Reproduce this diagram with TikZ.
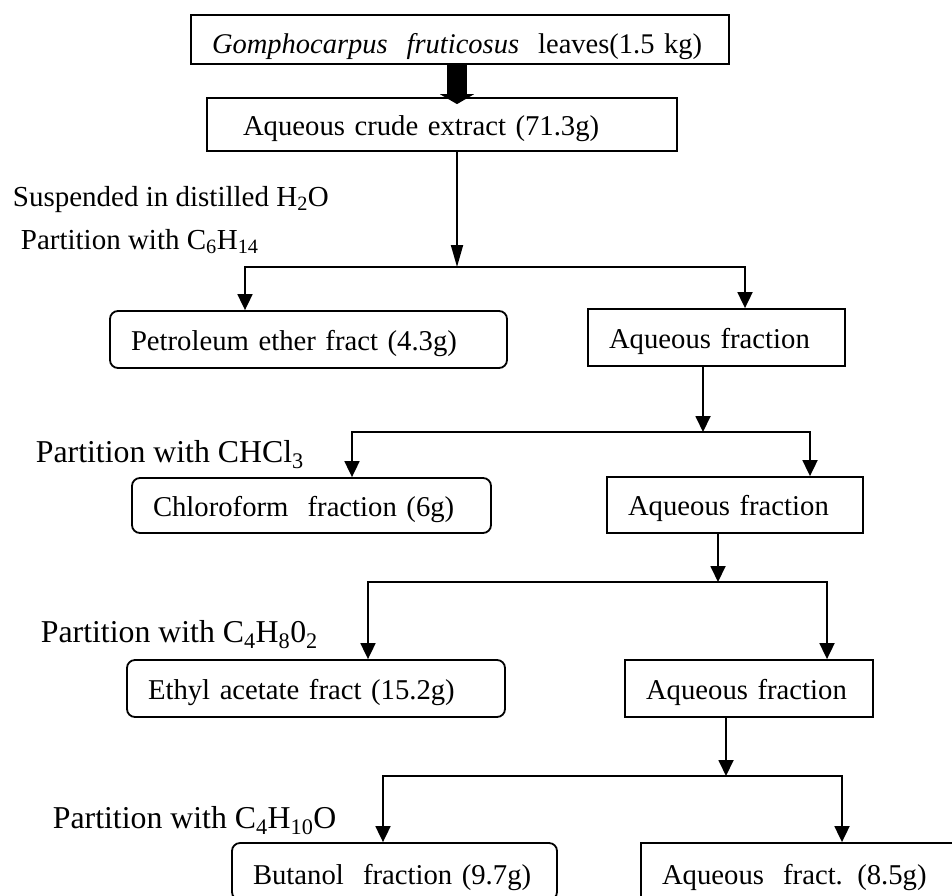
\documentclass[tikz,border=0pt]{standalone}
\usepackage{fontspec}
\setmainfont{Liberation Serif}
\usetikzlibrary{arrows.meta}

\begin{document}
\begin{tikzpicture}[x=1pt,y=-1pt,line width=1.8pt,
        arr/.style={-{Triangle[length=16pt,width=15pt]}},
        longarr/.style={-{Triangle[length=22pt,width=12pt]}},
        fatarr/.style={line width=20pt,-{Triangle[length=10pt,width=34pt]}},
        box/.style={draw,rectangle,align=left,inner xsep=21pt,minimum height=57pt,
            text height=25pt,text depth=4pt,font=\fontsize{28.7}{34}\selectfont},
        rbox/.style={box,rounded corners=8pt},
        partlabel/.style={anchor=base west,inner sep=0pt,font=\fontsize{31.8}{38}\selectfont}]

    \useasboundingbox (0,0) rectangle (952,895);

    \node[box, text width=496pt, minimum height=49pt, text height=31pt, font=\fontsize{28.5}{34}\selectfont] (leaves) at (460,39.5) {\textit{Gomphocarpus}\ \ \textit{fruticosus}\ \ leaves(1.5 kg)};
    \node[box, inner xsep=36pt, text width=398pt, minimum height=53pt] (crude) at (442,124.5) {Aqueous crude extract (71.3g)};

    \node[rbox, text width=355pt] (pet) at (308.5,339.5) {Petroleum ether fract (4.3g)};
    \node[box, text width=215pt] (aq1) at (716.5,337.5) {Aqueous fraction};
    \node[rbox, text width=317pt, minimum height=55pt] (chl) at (311.5,505.5) {Chloroform\ \ fraction (6g)};
    \node[box, text width=214pt, minimum height=56pt] (aq2) at (735,505) {Aqueous fraction};
    \node[rbox, text width=336pt] (eth) at (316,688.5) {Ethyl acetate fract (15.2g)};
    \node[box, text width=206pt] (aq3) at (749,688.5) {Aqueous fraction};
    \node[rbox, text width=283pt, text height=30pt] (but) at (394.5,871.5) {Butanol\ \ fraction (9.7g)};
    \node[box, text width=277pt, text height=30pt] (aqf) at (800.5,871.5) {Aqueous\ \ fract. (8.5g)};

    \node[partlabel, font=\fontsize{29}{35}\selectfont] (susp) at (12,206) {Suspended in distilled H\textsubscript{2}O};
    \node[partlabel, font=\fontsize{29}{35}\selectfont] (hex) at (20,249) {Partition with C\textsubscript{6}H\textsubscript{14}};
    \node[partlabel] (chcl) at (35,462) {Partition with CHCl\textsubscript{3}};
    \node[partlabel] (etac) at (40,642) {Partition with C\textsubscript{4}H\textsubscript{8}0\textsubscript{2}};
    \node[partlabel] (buoh) at (52,828) {Partition with C\textsubscript{4}H\textsubscript{10}O};

    % split points
    \coordinate (j1) at (457,267);
    \coordinate (l1) at (245,267);
    \coordinate (r1) at (745,267);
    \coordinate (j2) at (703,432);
    \coordinate (l2) at (352,432);
    \coordinate (r2) at (810,432);
    \coordinate (j3) at (718,582);
    \coordinate (l3) at (368,582);
    \coordinate (r3) at (827,582);
    \coordinate (j4) at (726,776);
    \coordinate (l4) at (383,776);
    \coordinate (r4) at (842,776);

    \draw[fatarr] (leaves.south -| j1) -- ([yshift=-7pt]crude.north -| j1);
    \draw[longarr] (crude.south -| j1) -- (j1);
    \draw[arr] (j1) -| (pet.north -| l1);
    \draw[arr] (j1) -| (aq1.north -| r1);

    \draw[arr] (aq1.south -| j2) -- (j2);
    \draw[arr] (j2) -| (chl.north -| l2);
    \draw[arr] (j2) -| (aq2.north -| r2);

    \draw[arr] (aq2.south -| j3) -- (j3);
    \draw[arr] (j3) -| (eth.north -| l3);
    \draw[arr] (j3) -| (aq3.north -| r3);

    \draw[arr] (aq3.south -| j4) -- (j4);
    \draw[arr] (j4) -| (but.north -| l4);
    \draw[arr] (j4) -| (aqf.north -| r4);

\end{tikzpicture}
\end{document}
